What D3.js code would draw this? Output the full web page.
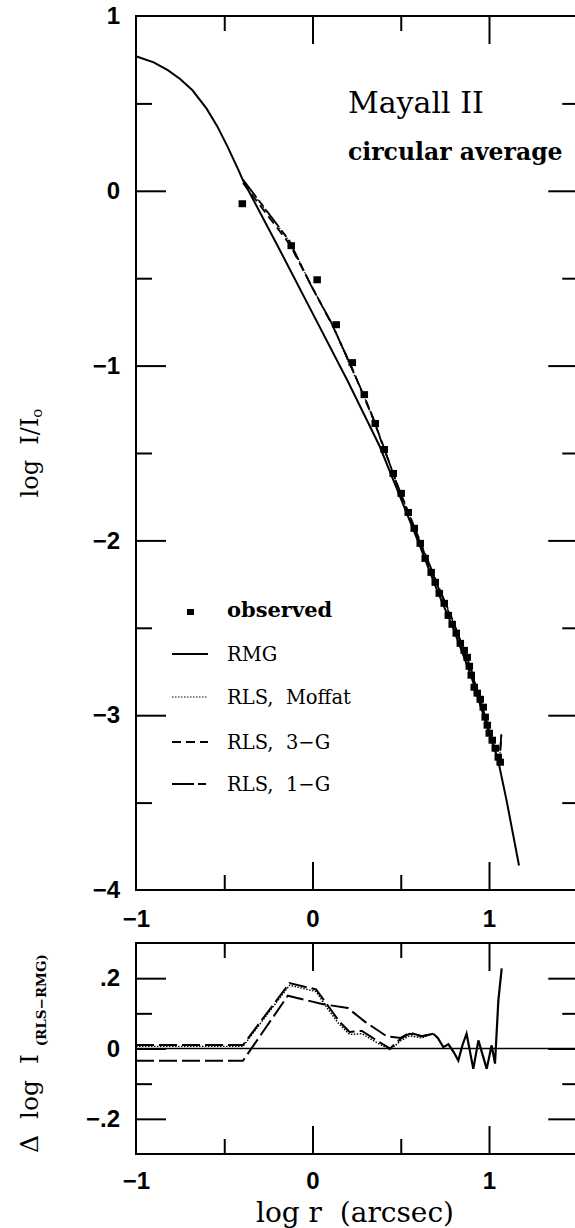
<!DOCTYPE html>
<html>
<head>
<meta charset="utf-8">
<script src="https://cdn.jsdelivr.net/npm/d3@7"></script>
<style>
  body { margin: 0; background: #fff; }
  svg { display: block; }
</style>
</head>
<body>
<script>
// observed points (log r, log I/Io)
const obsX = [-0.399, -0.122, 0.025, 0.133, 0.224, 0.292, 0.354, 0.405, 0.456, 0.501,
  0.541, 0.575, 0.609, 0.637, 0.671, 0.694, 0.717, 0.745, 0.768, 0.790,
  0.813, 0.836, 0.858, 0.875, 0.887, 0.898, 0.915, 0.932, 0.949, 0.966,
  0.977, 0.989, 1.000, 1.017, 1.034, 1.051, 1.062];
const obsY = [-0.074, -0.314, -0.509, -0.766, -0.983, -1.166, -1.331, -1.480, -1.617, -1.731,
  -1.840, -1.931, -2.017, -2.103, -2.183, -2.240, -2.303, -2.360, -2.429, -2.480,
  -2.531, -2.589, -2.629, -2.669, -2.720, -2.771, -2.840, -2.874, -2.909, -2.954,
  -3.011, -3.057, -3.103, -3.143, -3.189, -3.240, -3.269];

// model profiles, top panel
const rmg = [[-1.0, 0.77], [-0.9, 0.735], [-0.82, 0.69], [-0.75, 0.64], [-0.68, 0.575],
  [-0.6, 0.47], [-0.54, 0.37], [-0.48, 0.25], [-0.42, 0.12], [-0.394, 0.06],
  [-0.2, -0.31], [0.0, -0.70], [0.2, -1.09], [0.38, -1.46], [0.5, -1.76],
  [0.6, -2.01], [0.7, -2.27], [0.8, -2.51], [0.9, -2.78], [1.0, -3.1],
  [1.05, -3.25], [1.1, -3.49], [1.17, -3.86]];
const rlsMoffat = [[-0.394, 0.06], [-0.13, -0.29], [-0.01, -0.535], [0.11, -0.765], [0.21, -0.995],
  [0.29, -1.17], [0.343, -1.305], [0.394, -1.445], [0.5, -1.735], [0.6, -1.985],
  [0.7, -2.235], [0.8, -2.475], [0.9, -2.745], [1.0, -3.08], [1.04, -3.22], [1.06, -3.25], [1.07, -3.11]];
const rls3G = [[-0.394, 0.045], [-0.13, -0.305], [0.0, -0.555], [0.12, -0.785], [0.22, -1.005],
  [0.29, -1.175], [0.35, -1.32], [0.4, -1.455], [0.5, -1.74], [0.6, -1.99],
  [0.7, -2.24], [0.8, -2.48], [0.9, -2.75], [1.0, -3.085], [1.04, -3.225], [1.06, -3.255], [1.07, -3.115]];
const rls1G = [[-0.394, 0.065], [-0.131, -0.286], [-0.014, -0.531], [0.11, -0.76], [0.212, -0.989],
  [0.286, -1.16], [0.343, -1.297], [0.394, -1.446], [0.5, -1.73], [0.6, -1.98],
  [0.7, -2.23], [0.8, -2.47], [0.9, -2.74], [1.0, -3.08], [1.04, -3.22], [1.06, -3.25], [1.07, -3.11]];

// residuals, bottom panel (RLS - RMG)
const resTail = [[0.684, 0.042], [0.71, 0.03], [0.741, 0.004], [0.77, 0.012], [0.80, -0.01],
  [0.826, -0.034], [0.85, 0.01], [0.873, 0.042], [0.911, -0.058], [0.94, 0.023],
  [0.987, -0.058], [1.015, 0.009], [1.034, -0.043], [1.053, 0.137], [1.072, 0.228]];
const resMoffat = [[-1.0, 0.006], [-0.394, 0.006], [-0.13, 0.18], [0.02, 0.162], [0.09, 0.11],
  [0.15, 0.07], [0.21, 0.04], [0.28, 0.042], [0.36, 0.018], [0.44, -0.004],
  [0.5, 0.022], [0.55, 0.036], [0.62, 0.03], [0.684, 0.042]];
const res3G = [[-1.0, -0.035], [-0.394, -0.035], [-0.14, 0.15], [0.06, 0.126], [0.2, 0.115],
  [0.3, 0.075], [0.42, 0.035], [0.5, 0.03], [0.55, 0.045], [0.62, 0.035], [0.684, 0.042]];
const res1G = [[-1.0, 0.01], [-0.394, 0.01], [-0.13, 0.186], [0.02, 0.168], [0.09, 0.12],
  [0.15, 0.078], [0.21, 0.047], [0.28, 0.05], [0.36, 0.024], [0.44, 0.0],
  [0.5, 0.028], [0.55, 0.042], [0.62, 0.035], [0.684, 0.042]];

const legendLabels = ["RMG", "RLS,  Moffat", "RLS,  3\u2212G", "RLS,  1\u2212G"];
const styles = [
  { dash: null, w: 2 },
  { dash: "1.5,1.5", w: 1.2 },
  { dash: "9,5", w: 1.8 },
  { dash: "22,4,8,4", w: 1.8 }
];

const W = 575, H = 1228;
const svg = d3.select("body").append("svg").attr("width", W).attr("height", H);
svg.append("rect").attr("width", W).attr("height", H).attr("fill", "#fff");

const x = d3.scaleLinear().domain([-1, 1.5]).range([136, 577.25]);
const yTop = d3.scaleLinear().domain([-4, 1]).range([890, 16]);
const yBot = d3.scaleLinear().domain([-0.3, 0.3]).range([1154, 943]);

const tickFont = "'Liberation Sans', Arial, sans-serif";
const serif = "'DejaVu Serif', serif";

// draw only the tick marks of an axis
let ticksOnly = (g, axis) => {
  g.call(axis);
  g.select(".domain").remove();
  g.selectAll("text").remove();
  g.selectAll("line").attr("stroke", "#000").attr("stroke-width", 2);
};
// draw only the labels of an axis
let labelsOnly = (g, axis) => {
  g.call(axis);
  g.select(".domain").remove();
  g.selectAll("line").remove();
  g.selectAll("text").attr("font-family", tickFont).attr("font-size", 24)
    .attr("font-weight", "bold").attr("fill", "#000");
};

let panel = (y, majY, minY, labY, fmt, xPad) => {
  const [y0, y1] = y.domain();
  // frame
  svg.append("rect")
    .attr("x", x(-1)).attr("y", y(y1))
    .attr("width", x(1.5) - x(-1)).attr("height", y(y0) - y(y1))
    .attr("fill", "none").attr("stroke", "#000").attr("stroke-width", 2);
  // x ticks bottom and top
  svg.append("g").attr("transform", `translate(0,${y(y0)})`)
    .call(g => ticksOnly(g, d3.axisBottom(x).tickValues([0, 1]).tickSize(-28)));
  svg.append("g").attr("transform", `translate(0,${y(y0)})`)
    .call(g => ticksOnly(g, d3.axisBottom(x).tickValues([-0.5, 0.5]).tickSize(-15)));
  svg.append("g").attr("transform", `translate(0,${y(y1)})`)
    .call(g => ticksOnly(g, d3.axisTop(x).tickValues([0, 1]).tickSize(-28)));
  svg.append("g").attr("transform", `translate(0,${y(y1)})`)
    .call(g => ticksOnly(g, d3.axisTop(x).tickValues([-0.5, 0.5]).tickSize(-15)));
  // y ticks left and right
  svg.append("g").attr("transform", `translate(${x(-1)},0)`)
    .call(g => ticksOnly(g, d3.axisLeft(y).tickValues(majY).tickSize(-30)));
  svg.append("g").attr("transform", `translate(${x(-1)},0)`)
    .call(g => ticksOnly(g, d3.axisLeft(y).tickValues(minY).tickSize(-16)));
  svg.append("g").attr("transform", `translate(${x(1.5)},0)`)
    .call(g => ticksOnly(g, d3.axisRight(y).tickValues(majY).tickSize(-29)));
  svg.append("g").attr("transform", `translate(${x(1.5)},0)`)
    .call(g => ticksOnly(g, d3.axisRight(y).tickValues(minY).tickSize(-15)));
  // labels
  svg.append("g").attr("transform", `translate(${x(-1)},0)`)
    .call(g => labelsOnly(g, d3.axisLeft(y).tickValues(labY).tickSize(0).tickPadding(16).tickFormat(fmt)));
  svg.append("g").attr("transform", `translate(0,${y(y0)})`)
    .call(g => labelsOnly(g, d3.axisBottom(x).tickValues([-1, 0, 1]).tickSize(0).tickPadding(xPad)
      .tickFormat(d => d < 0 ? "\u2212" + Math.abs(d) : "" + d)));
};

panel(yTop, [-3, -2, -1, 0], [-3.5, -2.5, -1.5, -0.5, 0.5], [-4, -3, -2, -1, 0, 1],
  d => d < 0 ? "\u2212" + Math.abs(d) : "" + d, 20);
panel(yBot, [-0.2, 0, 0.2], [-0.1, 0.1], [-0.2, 0, 0.2],
  d => d === 0 ? "0" : (d < 0 ? "\u2212" : "") + "." + Math.round(Math.abs(d) * 10), 18);

// top panel curves
const lineTop = d3.line().x(d => x(d[0])).y(d => yTop(d[1]));
[rmg, rlsMoffat, rls3G, rls1G].forEach((s, i) => {
  svg.append("path").attr("d", lineTop(s))
    .attr("fill", "none").attr("stroke", "#000")
    .attr("stroke-width", styles[i].w)
    .attr("stroke-dasharray", styles[i].dash);
});

// observed squares
svg.append("g").selectAll("rect").data(obsX).join("rect")
  .attr("x", (d, i) => x(d) - 3.5)
  .attr("y", (d, i) => yTop(obsY[i]) - 3.5)
  .attr("width", 7.5).attr("height", 7).attr("fill", "#000");

// bottom panel: zero line and residuals
svg.append("line")
  .attr("x1", x(-1)).attr("x2", x(1.5)).attr("y1", yBot(0)).attr("y2", yBot(0))
  .attr("stroke", "#000").attr("stroke-width", 1.5);
const lineBot = d3.line().x(d => x(d[0])).y(d => yBot(d[1]));
[resMoffat, res3G, res1G].forEach((s, i) => {
  svg.append("path").attr("d", lineBot(s))
    .attr("fill", "none").attr("stroke", "#000")
    .attr("stroke-width", styles[i + 1].w + 0.2)
    .attr("stroke-dasharray", i === 0 ? "1.5,1.5" : "18,5");
});
svg.append("path").attr("d", lineBot(resTail))
  .attr("fill", "none").attr("stroke", "#000").attr("stroke-width", 2.2);

// titles
svg.append("text").attr("x", 348).attr("y", 113)
  .attr("font-family", serif).attr("font-size", 30)
  .text("Mayall II");
svg.append("text").attr("x", 348).attr("y", 160)
  .attr("font-family", serif).attr("font-weight", "bold").attr("font-size", 23.5)
  .text("circular average");

// legend
svg.append("rect").attr("x", 187).attr("y", 609).attr("width", 7).attr("height", 6).attr("fill", "#000");
svg.append("text").attr("x", 227).attr("y", 617)
  .attr("font-family", serif).attr("font-weight", "bold").attr("font-size", 21)
  .text("observed");
const legY = [654, 697, 742, 784];
legendLabels.forEach((lab, i) => {
  svg.append("line").attr("x1", 172).attr("x2", 208).attr("y1", legY[i]).attr("y2", legY[i])
    .attr("stroke", "#000").attr("stroke-width", styles[i].w)
    .attr("stroke-dasharray", styles[i].dash);
  svg.append("text").attr("x", 227).attr("y", legY[i] + 7)
    .attr("font-family", serif).attr("font-size", 19.5)
    .style("white-space", "pre")
    .text(lab);
});

// axis titles
const yt = svg.append("text").attr("transform", "translate(38,453) rotate(-90)")
  .attr("text-anchor", "middle").style("white-space", "pre")
  .attr("font-family", serif).attr("font-size", 24);
yt.append("tspan").text("log  I/I");
yt.append("tspan").attr("font-size", 15).attr("dy", 4).text("o");

const yb = svg.append("text").attr("transform", "translate(38,1153) rotate(-90)")
  .style("white-space", "pre")
  .attr("font-family", serif).attr("font-size", 25);
yb.append("tspan").text("\u0394  log  I ");
yb.append("tspan").attr("font-size", 13.5).attr("font-weight", "bold").attr("dy", 8).text("(RLS\u2212RMG)");

svg.append("text").attr("x", 355).attr("y", 1222).attr("text-anchor", "middle")
  .style("white-space", "pre")
  .attr("font-family", serif).attr("font-size", 28)
  .text("log r  (arcsec)");
</script>
</body>
</html>
